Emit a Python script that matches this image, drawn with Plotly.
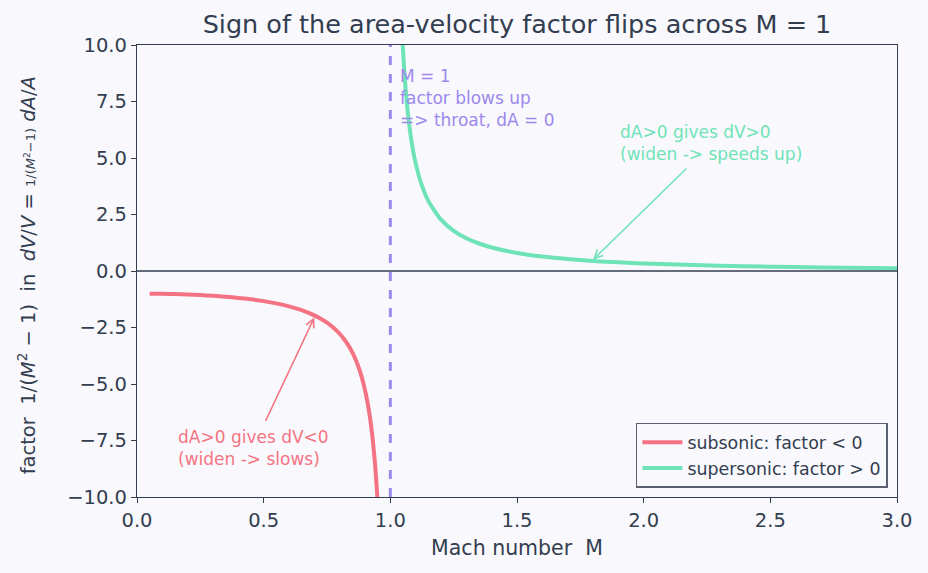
import plotly.graph_objects as go

# Subsonic branch: Mach number and factor 1/(M^2-1)
sub_M = [0.05, 0.1, 0.15, 0.2, 0.25, 0.3, 0.35, 0.4, 0.45, 0.5, 0.55, 0.6, 0.65, 0.7,
         0.72, 0.75, 0.78, 0.8, 0.82, 0.84, 0.86, 0.88, 0.9, 0.91, 0.92, 0.93, 0.94,
         0.945, 0.95, 0.96]
sub_F = [-1.0025, -1.0101, -1.0230, -1.0417, -1.0667, -1.0989, -1.1396, -1.1905,
         -1.2539, -1.3333, -1.4337, -1.5625, -1.7316, -1.9608, -2.0764, -2.2857,
         -2.5536, -2.7778, -3.0525, -3.3967, -3.8402, -4.4326, -5.2632, -5.8173,
         -6.5104, -7.4019, -8.5911, -9.3677, -10.2564, -12.755]

# Supersonic branch
sup_M = [1.03, 1.04, 1.045, 1.05, 1.06, 1.07, 1.08, 1.09, 1.1, 1.12, 1.15, 1.2, 1.25,
         1.3, 1.35, 1.4, 1.5, 1.6, 1.7, 1.8, 1.9, 2.0, 2.2, 2.4, 2.6, 2.8, 3.0]
sup_F = [16.42, 12.255, 10.87, 9.756, 8.091, 6.901, 6.010, 5.319, 4.762, 3.931, 3.101,
         2.273, 1.778, 1.449, 1.217, 1.0417, 0.8, 0.641, 0.529, 0.4464, 0.3831,
         0.3333, 0.2604, 0.2101, 0.1736, 0.1462, 0.125]

x_ticks = [0.0, 0.5, 1.0, 1.5, 2.0, 2.5, 3.0]
y_ticks = [-10.0, -7.5, -5.0, -2.5, 0.0, 2.5, 5.0, 7.5, 10.0]

RED = "#f47382"
GREEN = "#6fe3b8"
PURPLE = "#9d88ec"
TXT = "#333d50"
FONT = "DejaVu Sans"

fig = go.Figure()
fig.add_trace(go.Scatter(x=sub_M, y=sub_F, mode="lines", name="subsonic: factor < 0",
                         line=dict(color=RED, width=4, shape="spline", smoothing=0.6)))
fig.add_trace(go.Scatter(x=sup_M, y=sup_F, mode="lines", name="supersonic: factor > 0",
                         line=dict(color=GREEN, width=4, shape="spline", smoothing=0.6)))

# zero line and M = 1 line
fig.add_shape(type="line", xref="x", yref="y", x0=0, x1=3, y0=0, y1=0,
              line=dict(color=TXT, width=1.3), layer="above")
fig.add_shape(type="line", xref="x", yref="y", x0=1, x1=1, y0=-10, y1=10,
              line=dict(color=PURPLE, width=3, dash="dash"), layer="above")

fig.add_annotation(x=1.03, y=9.15, xref="x", yref="y", xanchor="left", yanchor="top",
                   align="left", showarrow=False,
                   text="M = 1<br>factor blows up<br>=> throat, dA = 0",
                   font=dict(family=FONT, size=17, color=PURPLE))

fig.add_annotation(x=1.9, y=5.65, xref="x", yref="y", xanchor="left", yanchor="middle",
                   align="left", showarrow=False,
                   text="dA>0 gives dV>0<br>(widen -> speeds up)",
                   font=dict(family=FONT, size=17, color=GREEN))
fig.add_annotation(x=1.8, y=0.5, ax=2.175, ay=4.6, xref="x", yref="y", axref="x", ayref="y",
                   text="", showarrow=True, arrowhead=5, arrowsize=1.1, arrowwidth=1.5,
                   arrowcolor=GREEN)

fig.add_annotation(x=0.155, y=-7.85, xref="x", yref="y", xanchor="left", yanchor="middle",
                   align="left", showarrow=False,
                   text="dA>0 gives dV<0<br>(widen -> slows)",
                   font=dict(family=FONT, size=17, color=RED))
fig.add_annotation(x=0.7, y=-2.05, ax=0.505, ay=-6.7, xref="x", yref="y", axref="x", ayref="y",
                   text="", showarrow=True, arrowhead=5, arrowsize=1.1, arrowwidth=1.5,
                   arrowcolor=RED)

# y-axis label as rotated annotation for precise placement
fig.add_annotation(x=-0.145, y=0.49, xref="paper", yref="paper", xanchor="center",
                   yanchor="middle", textangle=-90, showarrow=False,
                   text="factor  1/(<i>M</i><sup>2</sup> \u2212 1)  in  <i>dV</i>/<i>V</i> = "
                        "<span style='font-size:13px'>1/(<i>M</i><sup>2</sup>\u22121)</span> <i>dA</i>/<i>A</i>",
                   font=dict(family=FONT, size=19.5, color=TXT))

fig.update_layout(
    width=928, height=573,
    margin=dict(l=137, r=31, t=45, b=76),
    paper_bgcolor="#f9f9fd", plot_bgcolor="#f9f9fd",
    font=dict(family=FONT, color=TXT, size=19),
    title=dict(text="Sign of the area-velocity factor flips across M = 1",
               x=0.5, xref="paper", xanchor="center", y=0.958, yanchor="middle",
               font=dict(size=25.5, color=TXT)),
    showlegend=True,
    legend=dict(x=0.988, y=0.02, xanchor="right", yanchor="bottom",
                bgcolor="#f9f9fd", bordercolor="#5a6070", borderwidth=1.5,
                font=dict(size=17.4, color=TXT), itemwidth=40, tracegroupgap=0),
)
fig.update_xaxes(range=[0, 3], tickvals=x_ticks, ticktext=[f"{v:.1f}" for v in x_ticks],
                 showgrid=False, zeroline=False, showline=True, linecolor=TXT, linewidth=1.3,
                 mirror=True, ticks="outside", ticklen=5, tickcolor=TXT,
                 title=dict(text="Mach number  M", font=dict(size=20.5), standoff=10),
                 tickfont=dict(size=19.5))
fig.update_yaxes(range=[-10, 10], tickvals=y_ticks,
                 ticktext=[f"{v:.1f}".replace("-", "\u2212") for v in y_ticks],
                 showgrid=False, zeroline=False, showline=True, linecolor=TXT, linewidth=1.3,
                 mirror=True, ticks="outside", ticklen=5, tickcolor=TXT,
                 tickfont=dict(size=19.5))

fig.write_html("out.html")
